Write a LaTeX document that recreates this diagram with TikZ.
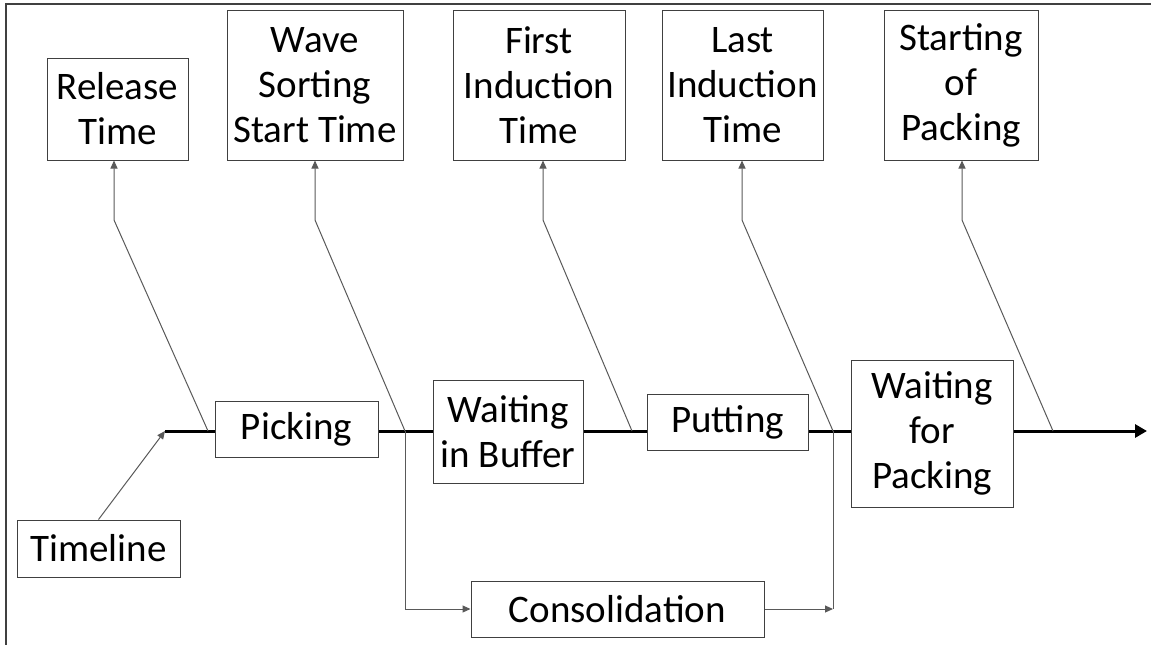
\documentclass[tikz,border=0pt]{standalone}
\usepackage{fontspec}
\setmainfont{Carlito}
\usetikzlibrary{arrows.meta,positioning,calc}

\tikzset{
  stage/.style={draw=black!75, line width=1pt, fill=white, align=center, inner sep=2pt},
  link/.style={draw=black!65, line width=1pt},
  tip/.style={-{Triangle[length=8pt,width=7pt]}},
  axis/.style={line width=3pt, -{Triangle[length=12pt,width=13pt]}}
}

\begin{document}
\begin{tikzpicture}[x=1pt, y=-1pt, every node/.style={font=\fontsize{39}{45}\selectfont}]
    \useasboundingbox (0,0) rectangle (1151,645);
    % frame edges
    \draw[black!75, line width=1.5pt] (6,645) -- (6,4) -- (1151,4);

    % time axis
    \coordinate (t0) at (165,431);
    \coordinate (t1) at (1147,431);
    \draw[axis] (t0) -- (t1);

    % stages on the axis
    \node[stage, minimum width=163pt, minimum height=56pt] (picking) at (296.5,429) {Picking};
    \node[stage, minimum width=150pt, minimum height=103pt] (buffer) at (508,431.5) {Waiting\\in Buffer};
    \node[stage, minimum width=161pt, minimum height=56pt] (putting) at (727.5,422) {Putting};
    \node[stage, minimum width=162pt, minimum height=147pt] (waitpack) at (932,433.5) {Waiting\\for\\Packing};
    \node[stage, minimum width=163pt, minimum height=57pt] (timeline) at (98.5,548.5) {Timeline};
    \node[stage, minimum width=293pt, minimum height=56pt] (consol) at (617.5,609) {Consolidation};

    % event boxes
    \node[stage, minimum width=141pt, minimum height=102pt] (rel) at (117.5,109) {Release\\Time};
    \node[stage, minimum width=176pt, minimum height=150pt] (wave) at (315,85) {Wave\\Sorting\\Start Time};
    \node[stage, minimum width=172pt, minimum height=150pt] (first) at (539,85) {First\\Induction\\Time};
    \node[stage, minimum width=161pt, minimum height=150pt] (last) at (742.5,85) {Last\\Induction\\Time};
    \node[stage, minimum width=154pt, minimum height=150pt] (start) at (961,85) {Starting\\of\\Packing};

    % event pointers
    \coordinate (r0) at (208,431);  \coordinate (r1) at (114,220);
    \coordinate (w0) at (405,431);  \coordinate (w1) at (315,220);
    \coordinate (f0) at (632,431);  \coordinate (f1) at (543,220);
    \coordinate (l0) at (833,431);  \coordinate (l1) at (742,220);
    \coordinate (s0) at (1053,431); \coordinate (s1) at (962,220);
    \draw[link, tip] (r0) -- (r1) -- (r1 |- rel.south);
    \draw[link, tip] (w0) -- (w1) -- (w1 |- wave.south);
    \draw[link, tip] (f0) -- (f1) -- (f1 |- first.south);
    \draw[link, tip] (l0) -- (l1) -- (l1 |- last.south);
    \draw[link, tip] (s0) -- (s1) -- (s1 |- start.south);

    % timeline label and consolidation branch
    \draw[link, tip] (timeline.north) -- (t0);
    \draw[link, tip] (w0) |- (consol.west);
    \draw[link] (l0) -- (l0 |- consol.east);
    \draw[link, tip] (consol.east) -- (l0 |- consol.east);
\end{tikzpicture}
\end{document}
